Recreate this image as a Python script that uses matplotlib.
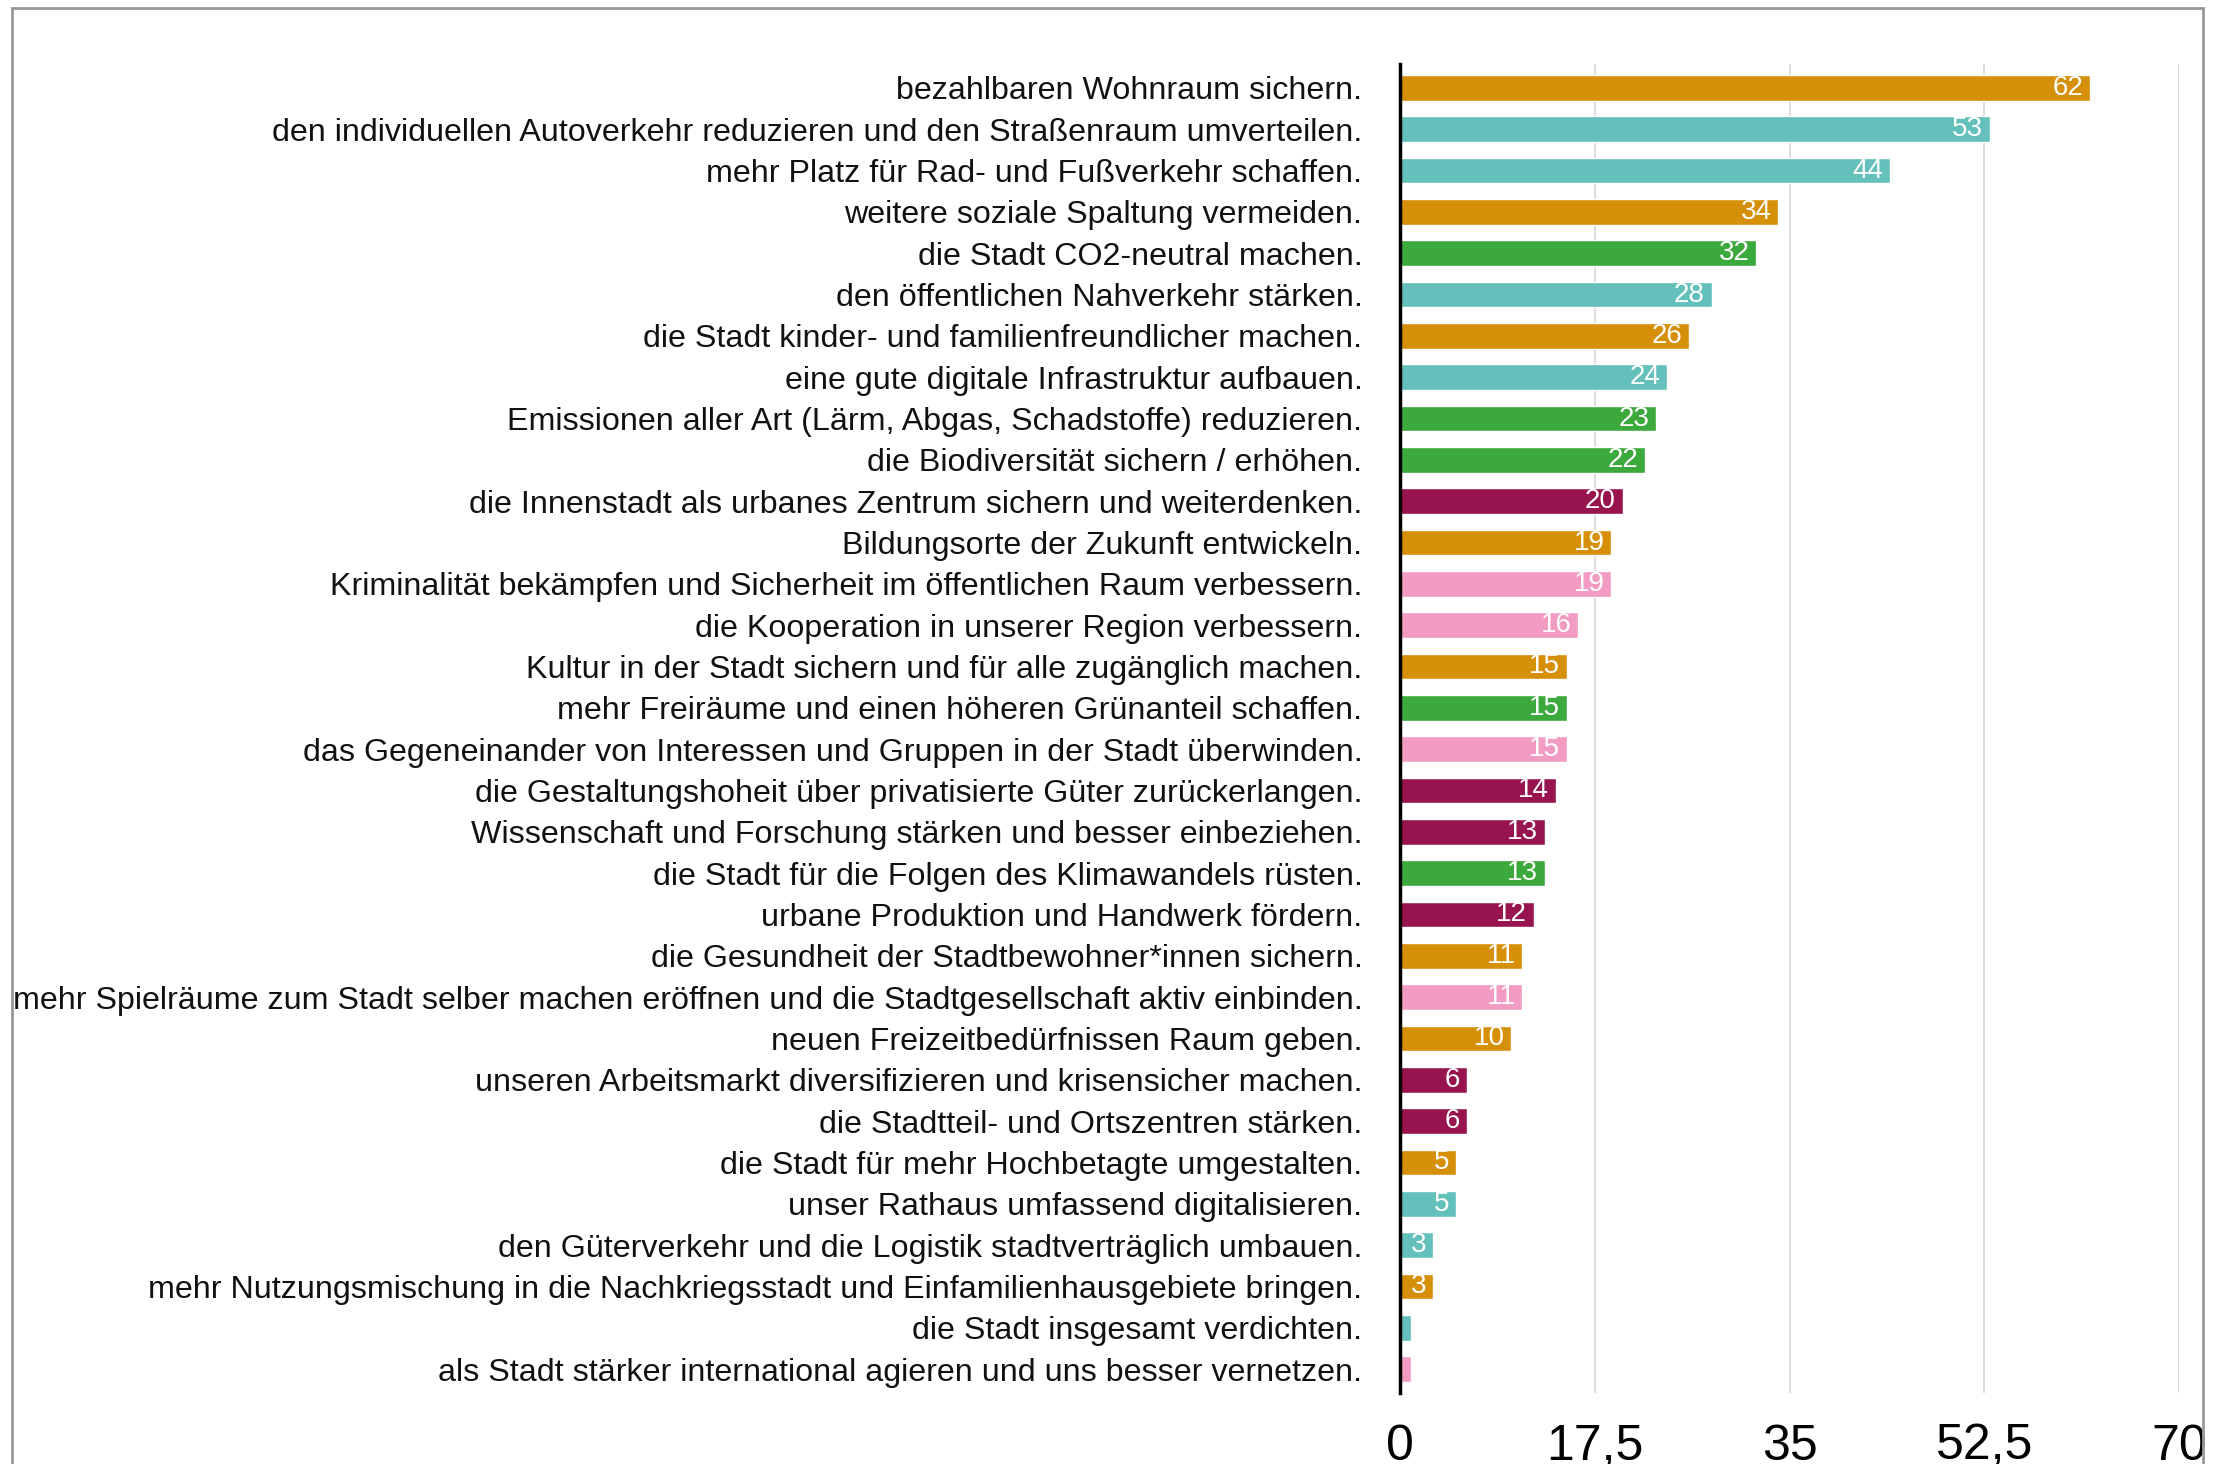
import matplotlib
matplotlib.use('Agg')
import matplotlib.pyplot as plt
from matplotlib.patches import Rectangle

# categories top to bottom
labels = [
    'bezahlbaren Wohnraum sichern.',
    'den individuellen Autoverkehr reduzieren und den Straßenraum umverteilen.',
    'mehr Platz für Rad- und Fußverkehr schaffen.',
    'weitere soziale Spaltung vermeiden.',
    'die Stadt CO2-neutral machen.',
    'den öffentlichen Nahverkehr stärken.',
    'die Stadt kinder- und familienfreundlicher machen.',
    'eine gute digitale Infrastruktur aufbauen.',
    'Emissionen aller Art (Lärm, Abgas, Schadstoffe) reduzieren.',
    'die Biodiversität sichern / erhöhen.',
    'die Innenstadt als urbanes Zentrum sichern und weiterdenken.',
    'Bildungsorte der Zukunft entwickeln.',
    'Kriminalität bekämpfen und Sicherheit im öffentlichen Raum verbessern.',
    'die Kooperation in unserer Region verbessern.',
    'Kultur in der Stadt sichern und für alle zugänglich machen.',
    'mehr Freiräume und einen höheren Grünanteil schaffen.',
    'das Gegeneinander von Interessen und Gruppen in der Stadt überwinden.',
    'die Gestaltungshoheit über privatisierte Güter zurückerlangen.',
    'Wissenschaft und Forschung stärken und besser einbeziehen.',
    'die Stadt für die Folgen des Klimawandels rüsten.',
    'urbane Produktion und Handwerk fördern.',
    'die Gesundheit der Stadtbewohner*innen sichern.',
    'mehr Spielräume zum Stadt selber machen eröffnen und die Stadtgesellschaft aktiv einbinden.',
    'neuen Freizeitbedürfnissen Raum geben.',
    'unseren Arbeitsmarkt diversifizieren und krisensicher machen.',
    'die Stadtteil- und Ortszentren stärken.',
    'die Stadt für mehr Hochbetagte umgestalten.',
    'unser Rathaus umfassend digitalisieren.',
    'den Güterverkehr und die Logistik stadtverträglich umbauen.',
    'mehr Nutzungsmischung in die Nachkriegsstadt und Einfamilienhausgebiete bringen.',
    'die Stadt insgesamt verdichten.',
    'als Stadt stärker international agieren und uns besser vernetzen.',
]
values = [62, 53, 44, 34, 32, 28, 26, 24, 23, 22, 20, 19, 19, 16, 15, 15, 15,
          14, 13, 13, 12, 11, 11, 10, 6, 6, 5, 5, 3, 3, 1, 1]
groups = ['o', 't', 't', 'o', 'g', 't', 'o', 't', 'g', 'g', 'm', 'o', 'p', 'p', 'o', 'g', 'p',
          'm', 'm', 'g', 'm', 'o', 'p', 'o', 'm', 'm', 'o', 't', 't', 'o', 't', 'p']
xticks = [0, 17.5, 35, 52.5, 70]
xticklabels = ['0', '17,5', '35', '52,5', '70']

colors = {'o': '#D68F08', 't': '#63C0BA', 'g': '#3BA93B', 'm': '#98144F', 'p': '#F29CC3'}

plt.rcParams['font.family'] = ['Liberation Sans', 'DejaVu Sans']

fig = plt.figure(figsize=(22.17, 14.64), dpi=100)
ax = fig.add_axes([0.6315, 0.0485, 0.3514, 0.9078])

ypos = list(range(len(values)))
ax.barh(ypos, values, height=0.62, color=[colors[g] for g in groups],
        edgecolor='white', linewidth=1, zorder=2)

# value labels inside the bars (tiny bars get none)
for y, v in zip(ypos, values):
    if v >= 2:
        ax.text(v - 0.6, y, str(v), ha='right', va='center', color='white',
                fontsize=20, zorder=3)

ax.set_ylim(len(values) - 0.42, -0.58)
ax.set_xlim(0, 70)
ax.set_yticks(ypos)
ax.set_yticklabels(labels, fontsize=23.2, color='#111111')
ax.set_xticks(xticks)
ax.set_xticklabels(xticklabels, fontsize=36)
ax.tick_params(axis='y', length=0, pad=27)
ax.tick_params(axis='x', length=0, pad=22)

ax.grid(axis='x', color='#dddddd', linewidth=1.5, zorder=0)
ax.set_axisbelow(True)
for s in ['top', 'right', 'bottom']:
    ax.spines[s].set_visible(False)
ax.spines['left'].set_linewidth(2.5)
ax.spines['left'].set_color('black')
ax.spines['left'].set_zorder(4)

# gray frame around the figure (bottom edge is cut off)
fig.patches.append(Rectangle((12 / 2217, -0.1), (2203 - 12) / 2217, 1.1 - 8 / 1464,
                             transform=fig.transFigure, fill=False,
                             edgecolor='#999999', linewidth=2))

fig.savefig('out.png', dpi=100, facecolor='white')
